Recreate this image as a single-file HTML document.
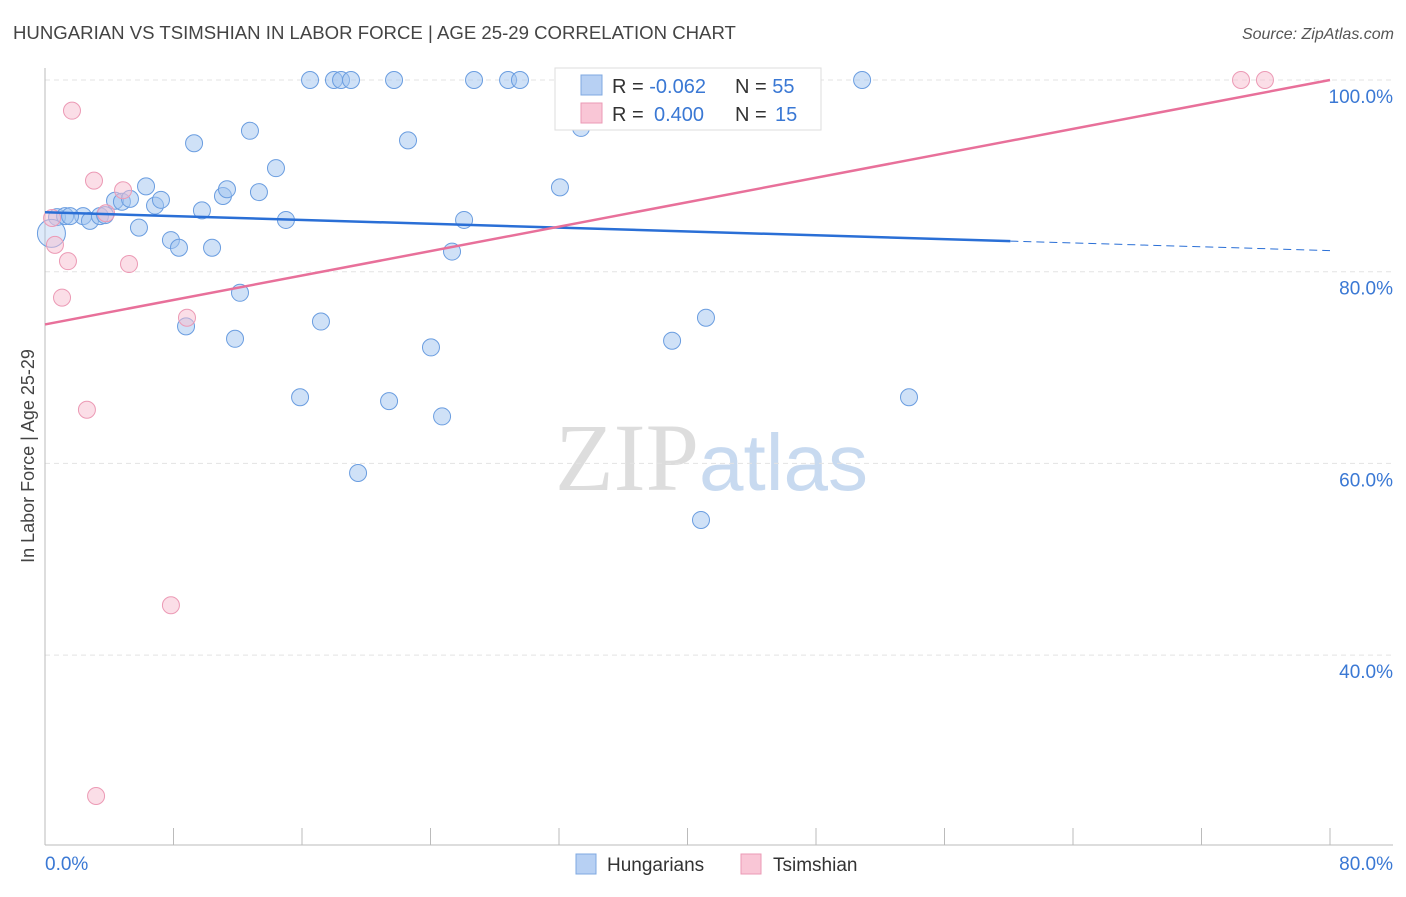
<!DOCTYPE html>
<html><head><meta charset="utf-8"><style>
body{margin:0;background:#fff;font-family:"Liberation Sans",sans-serif}
</style></head><body>
<svg id="chart" width="1406" height="892" xmlns="http://www.w3.org/2000/svg" font-family="Liberation Sans, sans-serif">
<text x="13" y="39" font-size="18.6" fill="#444">HUNGARIAN VS TSIMSHIAN IN LABOR FORCE | AGE 25-29 CORRELATION CHART</text>
<text x="1394" y="39" font-size="16" fill="#555" text-anchor="end" font-style="italic">Source: ZipAtlas.com</text>
<text x="555" y="490" font-size="96" fill="#ddd" font-family="Liberation Serif, serif">ZIP<tspan fill="#c8daf0" font-family="Liberation Sans, sans-serif" font-size="80">atlas</tspan></text>
<text transform="translate(34,456) rotate(-90)" font-size="18" fill="#444" text-anchor="middle">In Labor Force | Age 25-29</text>
<g id="grid"></g><g id="marks"></g>
<g>
<rect x="555" y="68" width="266" height="62" fill="#fff" stroke="#ddd"/>
<rect x="581" y="75" width="21" height="20" fill="#b7d0f3" stroke="#7fa8e0"/>
<rect x="581" y="103" width="21" height="20" fill="#f9c6d6" stroke="#eb9ab5"/>
<text x="612" y="93" font-size="20" fill="#333">R = <tspan fill="#3a78d4">-0.062</tspan><tspan x="735">N = </tspan><tspan fill="#3a78d4">55</tspan></text>
<text x="612" y="121" font-size="20" fill="#333">R = <tspan fill="#3a78d4" x="654">0.400</tspan><tspan x="735">N = </tspan><tspan fill="#3a78d4" x="775">15</tspan></text>
</g>
<g>
<rect x="576" y="854" width="20" height="20" fill="#b7d0f3" stroke="#7fa8e0"/>
<text x="607" y="871" font-size="19" fill="#333">Hungarians</text>
<rect x="741" y="854" width="20" height="20" fill="#f9c6d6" stroke="#eb9ab5"/>
<text x="773" y="871" font-size="19" fill="#333">Tsimshian</text>
</g>
</svg>
<script>
const blueX=[0.75,1.25,2.37,2.8,3.42,4.36,4.79,5.29,5.85,6.29,6.85,7.22,7.84,8.34,8.78,9.28,9.77,10.4,11.08,11.33,11.83,12.14,12.76,13.32,14.38,15.0,15.88,16.5,17.18,17.99,18.43,19.05,19.49,21.42,21.73,22.6,24.03,24.72,25.34,26.09,26.71,28.83,29.57,32.06,33.37,34.12,37.6,39.04,40.84,41.15,50.87,53.79,0.4,1.56,3.74];
const blueY=[85.7,85.8,85.8,85.3,85.8,87.4,87.3,87.6,84.6,88.9,86.9,87.5,83.3,82.5,74.3,93.4,86.4,82.5,87.9,88.6,73.0,77.8,94.7,88.3,90.8,85.4,66.9,100,74.8,100,100,100,59.0,66.5,100,93.7,72.1,64.9,82.1,85.4,100,100,100,88.8,95.0,99.6,100,72.8,54.1,75.2,100,66.9,84.0,85.8,85.9];
const pinkX=[0.62,0.44,1.06,1.43,1.68,2.61,3.05,3.18,3.8,4.86,5.23,7.84,8.84,74.46,75.95];
const pinkY=[82.8,85.6,77.3,81.1,96.8,65.6,89.5,25.3,86.1,88.5,80.8,45.2,75.2,100,100];
const yTicks=[100,80,60,40];
const blueTrend=[86.2,82.2], pinkTrend=[74.5,100];
const NS="http://www.w3.org/2000/svg";
const sx=v=>45+v/80*1285, sy=v=>80+(100-v)/20*191.7;
function mk(t,a,p){const e=document.createElementNS(NS,t);for(const k in a)e.setAttribute(k,a[k]);document.getElementById(p).appendChild(e);return e;}
yTicks.forEach(t=>{
 const l=mk('line',{x1:45,x2:1393,y1:sy(t),y2:sy(t),stroke:'#e3e3e3','stroke-dasharray':'5,4'},'grid');
 
 
 const tx=mk('text',{x:1393,y:sy(t)+23,'font-size':19,fill:'#3a78d4','text-anchor':'end'},'grid');
 tx.textContent=t.toFixed(1)+'%';
 
 
});
mk('line',{x1:45,x2:45,y1:68,y2:845,stroke:'#bbb'},'grid');
mk('line',{x1:45,x2:1393,y1:845,y2:845,stroke:'#bbb'},'grid');
for(let i=1;i<=10;i++){const x=45+i*128.5;mk('line',{x1:x,x2:x,y1:828,y2:845,stroke:'#bbb'},'grid');}
[[0,'0.0%','start',45],[80,'80.0%','end',1393]].forEach(d=>{const t=mk('text',{x:d[3],y:870,'font-size':19,fill:'#3a78d4','text-anchor':d[2]},'grid');t.textContent=d[1];

});
blueX.forEach((x,i)=>{const c=mk('circle',{cx:sx(x),cy:sy(blueY[i]),r:i==52?14:8.5,fill:i==52?'rgba(160,195,240,0.35)':'rgba(160,195,240,0.5)',stroke:'#6a9de0','stroke-width':1},'marks');

});
pinkX.forEach((x,i)=>{const c=mk('circle',{cx:sx(x),cy:sy(pinkY[i]),r:8.5,fill:'rgba(248,190,208,0.5)',stroke:'#ec9ab5','stroke-width':1},'marks');

});
const by=x=>blueTrend[0]+(blueTrend[1]-blueTrend[0])*x/80;
let l1=mk('line',{x1:sx(0),y1:sy(by(0)),x2:sx(60.1),y2:sy(by(60.1)),stroke:'#2a6fd6','stroke-width':2.5},'marks');


let l2=mk('line',{x1:sx(60.1),y1:sy(by(60.1)),x2:sx(80),y2:sy(by(80)),stroke:'#2a6fd6','stroke-width':1,'stroke-dasharray':'8,5'},'marks');


let l3=mk('line',{x1:sx(0),y1:sy(pinkTrend[0]),x2:sx(80),y2:sy(pinkTrend[1]),stroke:'#e8709a','stroke-width':2.5},'marks');


</script>
</body></html>
